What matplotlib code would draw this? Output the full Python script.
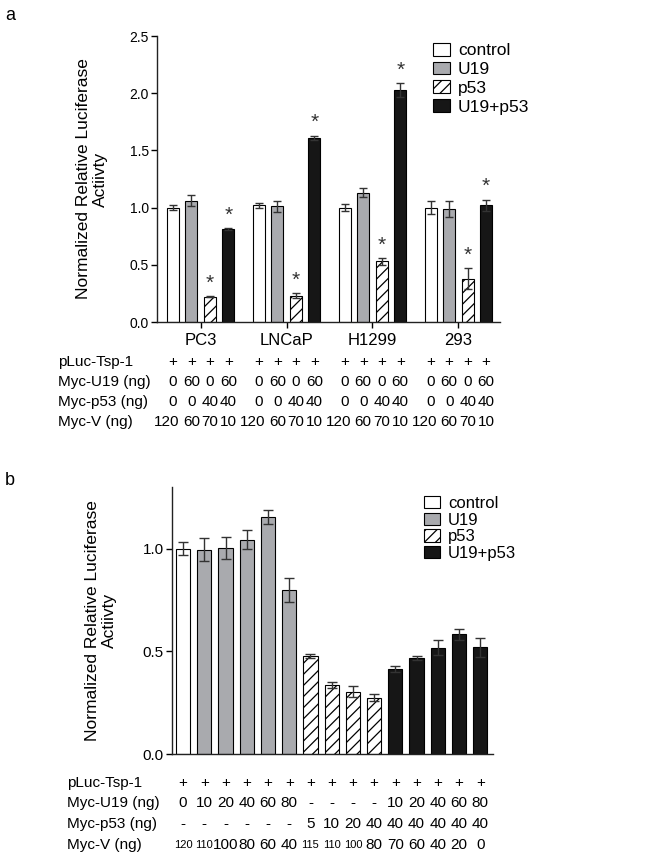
import matplotlib
matplotlib.use("Agg")
import matplotlib.pyplot as plt
import matplotlib.transforms as mtransforms
from matplotlib.patches import Patch
import numpy as np

plt.rcParams['font.family'] = ['Liberation Sans', 'DejaVu Sans']
plt.rcParams['hatch.linewidth'] = 0.9

# ---- panel a data
cells = ["PC3", "LNCaP", "H1299", "293"]
series = ["control", "U19", "p53", "U19+p53"]
a_vals = [[1.00, 1.06, 0.22, 0.81],
          [1.02, 1.01, 0.23, 1.61],
          [1.00, 1.13, 0.53, 2.03],
          [1.00, 0.99, 0.38, 1.02]]
a_errs = [[0.02, 0.05, 0.005, 0.01],
          [0.02, 0.05, 0.02, 0.02],
          [0.03, 0.04, 0.03, 0.06],
          [0.06, 0.07, 0.09, 0.05]]
a_star = [False, False, True, True]
a_rows = ["pLuc-Tsp-1", "Myc-U19 (ng)", "Myc-p53 (ng)", "Myc-V (ng)"]
a_table = [["+", "+", "+", "+"],
           ["0", "60", "0", "60"],
           ["0", "0", "40", "40"],
           ["120", "60", "70", "10"]]

# ---- panel b data
b_vals = [1.00, 0.995, 1.003, 1.044, 1.155, 0.80, 0.476, 0.335, 0.304, 0.275,
          0.413, 0.466, 0.517, 0.584, 0.519]
b_errs = [0.03, 0.055, 0.055, 0.045, 0.033, 0.058, 0.01, 0.016, 0.028, 0.018,
          0.015, 0.01, 0.036, 0.027, 0.047]
b_series = [0, 1, 1, 1, 1, 1, 2, 2, 2, 2, 3, 3, 3, 3, 3]
b_luc = ["+"] * 15
b_u19 = ["0", "10", "20", "40", "60", "80", "-", "-", "-", "-", "10", "20", "40", "60", "80"]
b_p53 = ["-", "-", "-", "-", "-", "-", "5", "10", "20", "40", "40", "40", "40", "40", "40"]
b_v = ["120", "110", "100", "80", "60", "40", "115", "110", "100", "80", "70", "60", "40", "20", "0"]

# styles
face = ["white", "#a9aaae", "white", "#161616"]
hatch = [None, None, "///", None]
b_small = {0, 1, 6, 7, 8}
ylab = "Normalized Relative Luciferase\nActiivty"

W, H = 654, 861
fig = plt.figure(figsize=(W / 100, H / 100), dpi=100)
fig.patch.set_facecolor("white")


def px_ax(l, r, t, b):
    return fig.add_axes([l / W, 1 - b / H, (r - l) / W, (b - t) / H])


def style(ax):
    for s in ["top", "right"]:
        ax.spines[s].set_visible(False)
    for s in ["left", "bottom"]:
        ax.spines[s].set_linewidth(1.0)
        ax.spines[s].set_color("#222222")


def legend(x, y, fs, spacing):
    handles = [Patch(facecolor=face[i], edgecolor="black", hatch=hatch[i], lw=0.8)
               for i in range(4)]
    fig.legend(handles, series, loc="upper left", bbox_to_anchor=(x / W, 1 - y / H),
               frameon=False, fontsize=fs, handlelength=0.98, handleheight=0.75,
               handletextpad=0.45, labelspacing=spacing, borderpad=0, borderaxespad=0)


# ================= panel a
ax = px_ax(157, 500, 36, 322)
style(ax)
gap = 4.65
for g in range(4):
    for j in range(4):
        x = g * gap + j
        v, e = a_vals[g][j], a_errs[g][j]
        ax.bar(x, v, width=0.65, color=face[j], edgecolor="black", lw=0.8,
               hatch=hatch[j], zorder=2)
        ax.errorbar(x, v, yerr=e, fmt="none", ecolor="#333333", elinewidth=1,
                    capsize=3.2, capthick=1, zorder=3)
        if a_star[j]:
            ax.text(x, v + e + 0.03, "*", ha="center", va="bottom", fontsize=15,
                    color="#333333")
ax.set_xlim(-0.86, 17.7)
ax.set_ylim(0, 2.5)
ticks = np.arange(0, 2.51, 0.5)
ax.set_yticks(ticks)
ax.set_yticklabels([f"{t:.1f}" for t in ticks], fontsize=10)
ax.set_xticks([g * gap + 1.5 for g in range(4)])
ax.set_xticklabels(cells, fontsize=12)
ax.tick_params(length=4, width=1, pad=2)
ax.tick_params(axis="x", pad=4)
ax.set_ylabel(ylab, fontsize=12.5, linespacing=1.15)
ax.yaxis.set_label_coords(-0.143, 0.5)
legend(433, 43, 12.5, 0.19)

tr = mtransforms.blended_transform_factory(ax.transData, fig.transFigure)
row_y = [362, 382, 402, 422]
for r, lab in enumerate(a_rows):
    fig.text(58 / W, 1 - row_y[r] / H, lab, ha="left", va="center", fontsize=11)
    for g in range(4):
        for j in range(4):
            x = g * gap + j
            ha = "center"
            if r == 3 and j == 0:
                x, ha = x + 0.35, "right"
            ax.text(x, 1 - row_y[r] / H, a_table[r][j], transform=tr,
                    ha=ha, va="center", fontsize=11)

# ================= panel b
bx = px_ax(172, 493, 487, 754)
style(bx)
xb = np.arange(len(b_vals))
for i in range(len(b_vals)):
    s = b_series[i]
    bx.bar(xb[i], b_vals[i], width=0.67, color=face[s], edgecolor="black", lw=0.8,
           hatch=hatch[s], zorder=2)
bx.errorbar(xb, b_vals, yerr=b_errs, fmt="none", ecolor="#333333", elinewidth=1,
            capsize=3.6, capthick=1, zorder=3)
bx.set_xlim(-0.52, 14.6)
bx.set_ylim(0, 1.3)
bx.set_yticks([0, 0.5, 1.0])
bx.set_yticklabels(["0.0", "0.5", "1.0"], fontsize=11)
bx.set_xticks([])
bx.tick_params(axis="y", length=4, width=1, pad=2)
bx.set_ylabel(ylab, fontsize=12.5, linespacing=1.15)
bx.yaxis.set_label_coords(-0.171, 0.5)
legend(424, 496, 12, 0.1)

trb = mtransforms.blended_transform_factory(bx.transData, fig.transFigure)
b_rows = [("pLuc-Tsp-1", b_luc), ("Myc-U19 (ng)", b_u19), ("Myc-p53 (ng)", b_p53),
          ("Myc-V (ng)", b_v)]
rowb_y = [783, 803, 824, 845]
for r, (lab, vals) in enumerate(b_rows):
    fig.text(67 / W, 1 - rowb_y[r] / H, lab, ha="left", va="center", fontsize=11)
    for i, t in enumerate(vals):
        fs = 8 if (r == 3 and i in b_small) else 11
        bx.text(xb[i], 1 - rowb_y[r] / H, t, transform=trb, ha="center", va="center",
                fontsize=fs)

fig.text(5 / W, 1 - 15 / H, "a", fontsize=13, va="center", ha="left")
fig.text(5 / W, 1 - 481 / H, "b", fontsize=13, va="center", ha="left")

fig.savefig("out.png", dpi=100)
